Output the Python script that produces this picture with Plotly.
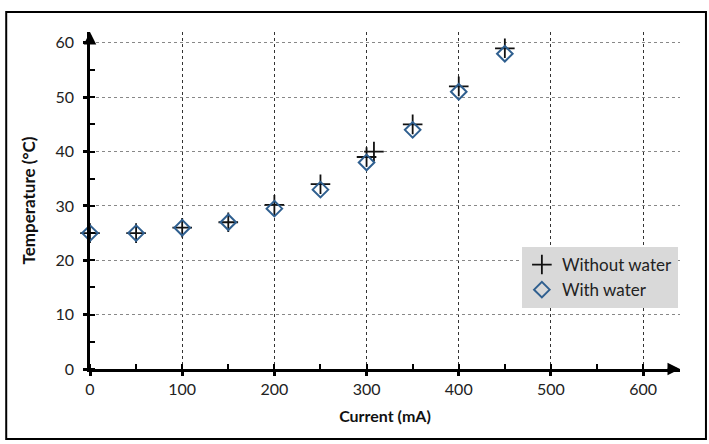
import plotly.graph_objects as go

# current (mA) and temperature (degC)
current_dry = [0, 50, 100, 150, 200, 250, 300, 308, 350, 400, 450]
temp_dry = [25, 25, 26, 27, 30.2, 34, 39, 40, 45, 52, 59]

current_wet = [0, 50, 100, 150, 200, 250, 300, 350, 400, 450]
temp_wet = [25, 25, 26, 27, 29.5, 33, 38, 44, 51, 58]

x_ticks = [0, 100, 200, 300, 400, 500, 600]
y_ticks = [0, 10, 20, 30, 40, 50, 60]

FONT = "Lato, 'Open Sans', sans-serif"

fig = go.Figure()

fig.add_trace(go.Scatter(
    x=current_dry, y=temp_dry, mode="markers", name="Without water",
    marker=dict(symbol="cross-thin", size=14, line=dict(color="#111111", width=1.8)),
    cliponaxis=False,
))
fig.add_trace(go.Scatter(
    x=current_wet, y=temp_wet, mode="markers", name="With water",
    marker=dict(symbol="diamond-open", size=12, color="#2f5f8f", line=dict(width=2)),
    cliponaxis=False,
))

fig.update_xaxes(
    range=[0, 640], tickvals=x_ticks,
    showline=True, linecolor="black", linewidth=2.5,
    ticks="outside", ticklen=4, tickwidth=2.5, tickcolor="black",
    minor=dict(dtick=50, ticks="inside", ticklen=5, tickwidth=2, tickcolor="black", showgrid=False),
    showgrid=True, gridcolor="#333333", gridwidth=1, griddash="3px,3px",
    zeroline=False,
    tickfont=dict(family=FONT, size=16, color="#222222"),
    title=dict(text="<b>Current (mA)</b>", font=dict(family=FONT, size=16, color="#111111"), standoff=14),
)
fig.update_yaxes(
    range=[0, 62], tickvals=y_ticks,
    showline=True, linecolor="black", linewidth=2.5,
    ticks="outside", ticklen=4, tickwidth=2.5, tickcolor="black",
    minor=dict(dtick=5, ticks="inside", ticklen=5, tickwidth=2, tickcolor="black", showgrid=False),
    showgrid=True, gridcolor="#888888", gridwidth=1, griddash="3px,3px",
    zeroline=False, ticklabelstandoff=6,
    tickfont=dict(family=FONT, size=16, color="#222222"),
    title=dict(text="<b>Temperature (°C)</b>", font=dict(family=FONT, size=17, color="#111111"), standoff=16),
)

# arrow heads at the ends of both axes
fig.add_annotation(x=640, y=0, ax=625, ay=0, xref="x", yref="y", axref="x", ayref="y",
                   text="", showarrow=True, arrowhead=2, arrowsize=1, arrowwidth=2.5, arrowcolor="black")
fig.add_annotation(x=0, y=62, ax=0, ay=60, xref="x", yref="y", axref="x", ayref="y",
                   text="", showarrow=True, arrowhead=2, arrowsize=1, arrowwidth=2.5, arrowcolor="black")

# outer frame around the chart
fig.add_shape(type="rect", xref="paper", yref="paper",
              x0=-0.142, x1=1.044, y0=-0.208, y1=1.059,
              line=dict(color="black", width=2), layer="above")

fig.update_layout(
    width=709, height=444,
    margin=dict(l=90, r=29, t=32, b=75),
    paper_bgcolor="white", plot_bgcolor="white",
    font=dict(family=FONT),
    legend=dict(
        x=0.732, y=0.362, xanchor="left", yanchor="top",
        bgcolor="#d9d9d9", font=dict(family=FONT, size=17, color="#222222"),
        itemwidth=30, tracegroupgap=4,
    ),
)

fig.write_html("out.html", config={"displayModeBar": False},
               post_script="document.body.style.margin='0';")
